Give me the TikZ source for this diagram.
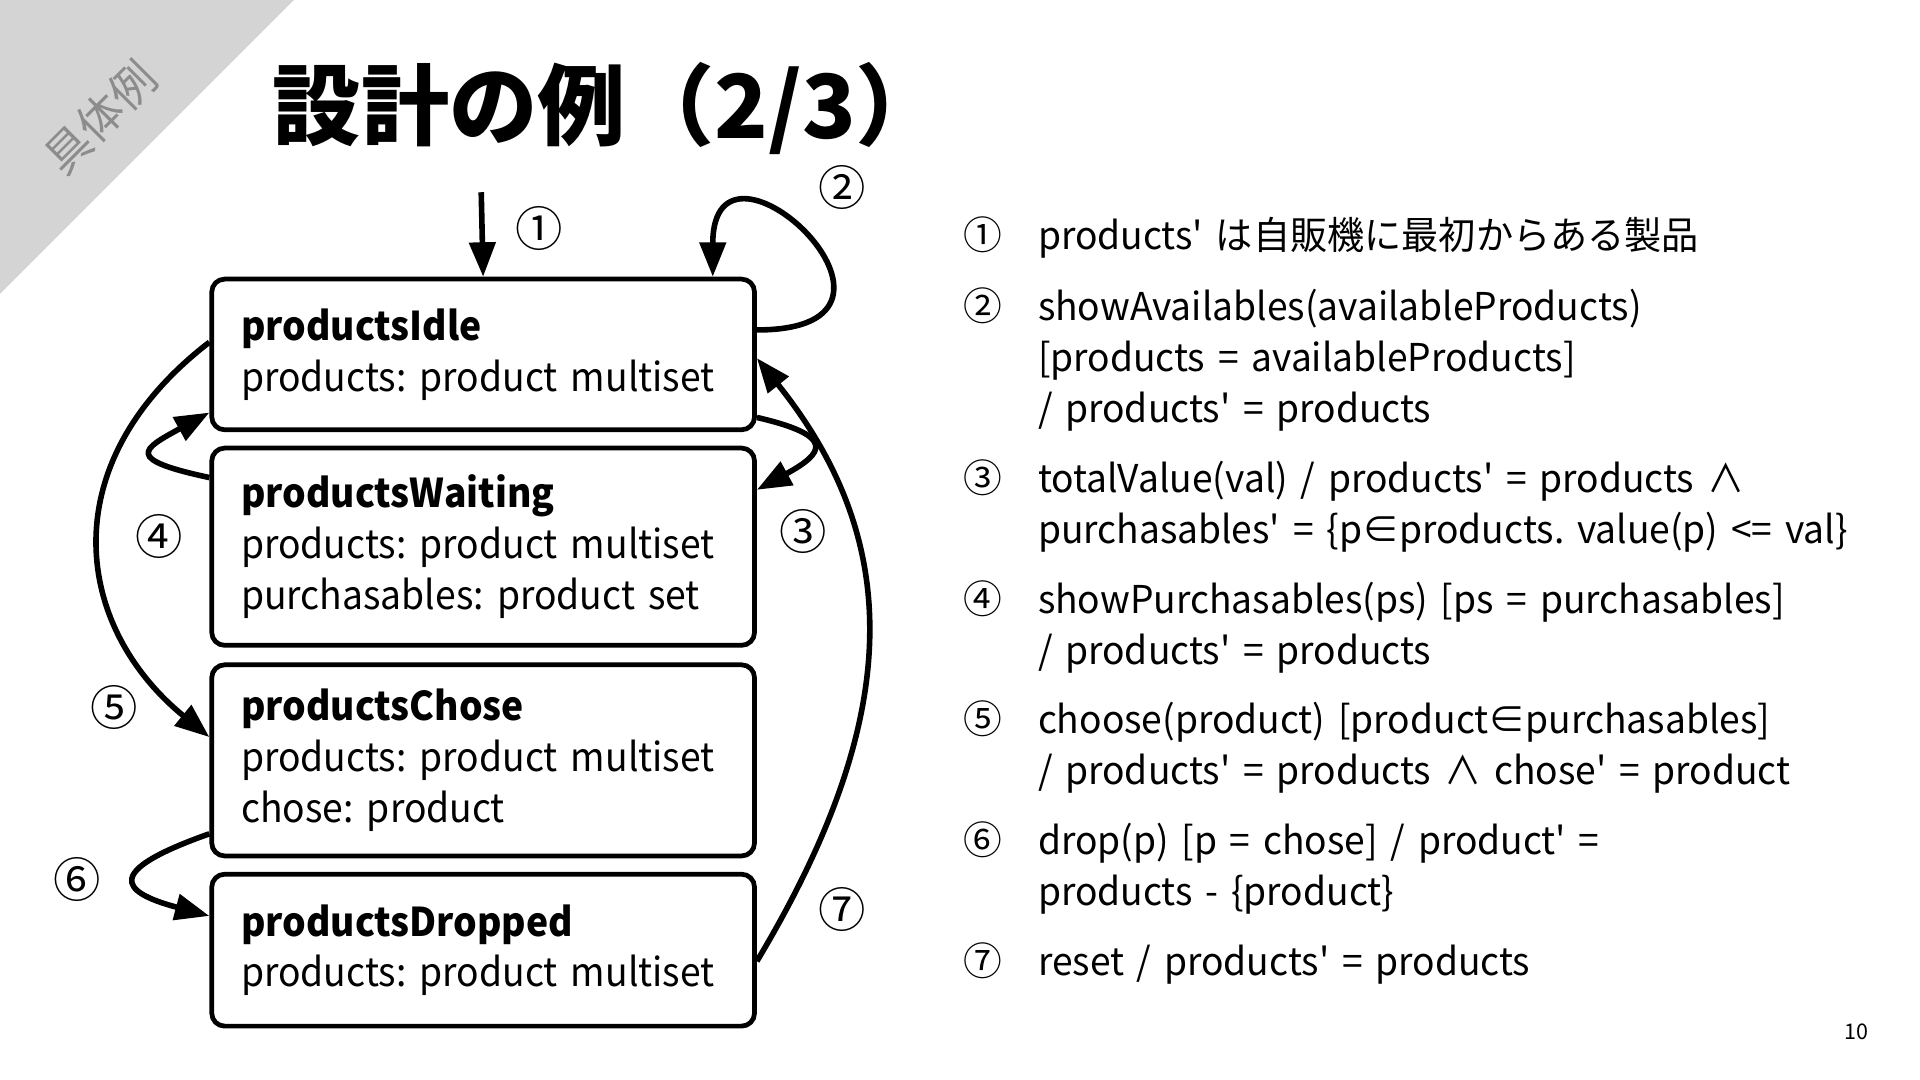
\documentclass[tikz,border=0pt]{standalone}
\usepackage{fontspec}
\setmainfont{Noto Sans CJK JP}
\newfontfamily\boxfont{Noto Sans CJK JP}[FakeStretch=0.94]
\newfontfamily\listfont{Noto Sans CJK JP}[FakeStretch=0.97]
\frenchspacing
\usetikzlibrary{arrows.meta, positioning}

\begin{document}
\begin{tikzpicture}[x=0.01cm, y=-0.01cm,
    state/.style = {rectangle, draw=black, line width=1.1pt, rounded corners=3pt, anchor=north west, align=left, text width=3.95cm, inner xsep=0.24cm, font=\boxfont\fontsize{9.2}{11.8}\selectfont},
    arrow/.style = {draw=black, line width=1.3pt, -{Triangle[length=8pt, width=6pt]}},
    numlabel/.style = {font=\fontsize{11}{11}\selectfont},
    listnum/.style = {anchor=base, font=\fontsize{9}{11.8}\selectfont},
    listtext/.style = {anchor=base west, align=left, text width=9cm, inner sep=0pt, font=\listfont\fontsize{8.9}{11.8}\selectfont}
]
\useasboundingbox (0,0) rectangle (1568,882);
\fill[white] (0,0) rectangle (1568,882);

% Corner tag and title
\fill[black!17] (0,0) -- (240,0) -- (0,240) -- cycle;
\node (tag) [rotate=45, text=black!45, font=\fontsize{10.5}{10.5}\selectfont, inner sep=0pt] at (82,96) {具体例};
\node (title) [font=\fontsize{20.5}{20.5}\selectfont\bfseries, inner sep=0pt] at (497,89) {設計の例（2/3）};

% States (x = 171, stacked from y = 226 down)
\node (idle) [state, minimum height=1.23cm] at (171,226) {\textbf{productsIdle}\\products: product multiset};
\node (waiting) [state, minimum height=1.61cm] at (171,364) {\textbf{productsWaiting}\\products: product multiset\\purchasables: product set};
\node (chose) [state, minimum height=1.56cm] at (171,541) {\textbf{productsChose}\\products: product multiset\\chose: product};
\node (dropped) [state, minimum height=1.24cm] at (171,712) {\textbf{productsDropped}\\products: product multiset};

% Initial arrow
\coordinate (init) at (393,157);
\draw [arrow] (init) -- (idle.north);

% Self loop on idle
\draw [arrow] ([yshift=0.2cm]idle.east) .. controls +(160,0) and +(0,-140) .. ([xshift=-0.36cm]idle.north east);

% Idle <-> Waiting
\draw [arrow] ([yshift=0.12cm]idle.south east) .. controls +(65,15) and +(55,-30) .. ([yshift=-0.36cm]waiting.north east);
\draw [arrow] ([yshift=-0.26cm]waiting.north west) .. controls +(-70,-15) and +(-55,30) .. ([yshift=0.16cm]idle.south west);

% Idle -> Chose (wide bend on the left)
\draw [arrow] ([yshift=0.1cm]idle.west) .. controls +(-130,100) and +(-110,-90) .. ([yshift=0.19cm]chose.west);

% Chose -> Dropped
\draw [arrow] ([yshift=0.2cm]chose.south west) .. controls +(-85,30) and +(-75,-20) .. ([yshift=-0.36cm]dropped.north west);

% Dropped -> Idle (reset, wide bend on the right)
\draw [arrow] ([yshift=-0.09cm]dropped.east) .. controls +(120,-200) and +(120,150) .. ([yshift=-0.03cm]idle.east);

% Transition numbers
\node (l1) [numlabel] at (440,187) {①};
\node (l2) [numlabel] at (688,153) {②};
\node (l3) [numlabel] at (656,434) {③};
\node (l4) [numlabel] at (130,438) {④};
\node (l5) [numlabel] at (93,578) {⑤};
\node (l6) [numlabel] at (63,718) {⑥};
\node (l7) [numlabel] at (688,743) {⑦};

% Legend on the right: numbers at x = 803, texts at x = 847
\node (n1) [listnum] at (803,204) {①};
\node (t1) [listtext] at (847,204) {products' は自販機に最初からある製品};
\node (n2) [listnum] at (803,262) {②};
\node (t2) [listtext] at (847,262) {showAvailables(availableProducts)\\{}[products = availableProducts]\\/ products' = products};
\node (n3) [listnum] at (803,402) {③};
\node (t3) [listtext] at (847,402) {totalValue(val) / products' = products ∧\\purchasables' = \{p∈products. value(p) <= val\}};
\node (n4) [listnum] at (803,501) {④};
\node (t4) [listtext] at (847,501) {showPurchasables(ps) [ps = purchasables]\\/ products' = products};
\node (n5) [listnum] at (803,599) {⑤};
\node (t5) [listtext] at (847,599) {choose(product) [product∈purchasables]\\/ products' = products ∧ chose' = product};
\node (n6) [listnum] at (803,698) {⑥};
\node (t6) [listtext] at (847,698) {drop(p) [p = chose] / product' =\\products - \{product\}};
\node (n7) [listnum] at (803,797) {⑦};
\node (t7) [listtext] at (847,797) {reset / products' = products};

% Page number
\node (page) [font=\fontsize{5}{5}\selectfont] at (1516,843) {10};

\end{tikzpicture}
\end{document}
